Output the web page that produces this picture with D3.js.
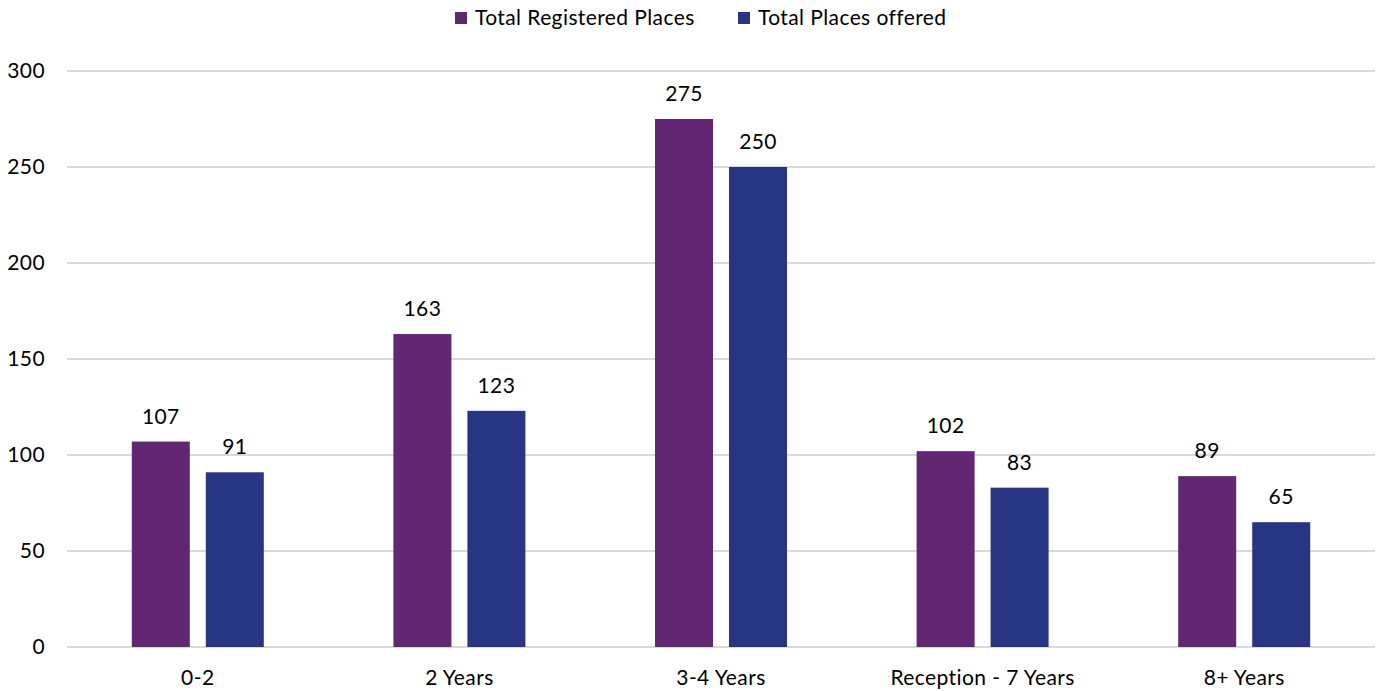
<!DOCTYPE html>
<html><head><meta charset="utf-8">
<script src="https://cdn.jsdelivr.net/npm/d3@7"></script>
<style>body{margin:0;background:#fff}svg{display:block}text{font-family:Lato,"Open Sans",sans-serif;fill:#000;letter-spacing:0.4px}</style>
</head><body>
<svg id="c" width="1383" height="691"></svg>
<script>
const categories = ["0-2","2 Years","3-4 Years","Reception - 7 Years","8+ Years"];
const seriesNames = ["Total Registered Places","Total Places offered"];
const registered = [107,163,275,102,89];
const offered = [91,123,250,83,65];
const yTicks = [0,50,100,150,200,250,300];
const colors = ["#622773","#283583"];

(function(){
const svg = d3.select("#c");
const pLeft = 67, pRight = 1375, pTop = 71, pBottom = 647;
const fs = 21;
const x = d3.scaleBand().domain(categories).range([pLeft,pRight]);
const y = d3.scaleLinear().domain([0,300]).range([pBottom,pTop]);
const barW = 58, gap = 16;

svg.append("g").selectAll("line").data(yTicks).join("line")
  .attr("x1",pLeft).attr("x2",pRight).attr("y1",d=>y(d)).attr("y2",d=>y(d))
  .attr("stroke","#d9d9d9").attr("stroke-width",2);
svg.append("g").selectAll("text").data(yTicks).join("text")
  .attr("x",45).attr("y",d=>y(d)+7).attr("text-anchor","end").attr("font-size",fs).text(d=>d);

const series = [registered, offered];
series.forEach((vals,si)=>{
  const g = svg.append("g");
  const xo = c => x(c)+x.bandwidth()/2 + (si===0 ? -(gap/2+barW) : gap/2);
  g.selectAll("rect").data(categories).join("rect")
    .attr("x",c=>xo(c)).attr("width",barW)
    .attr("y",(c,i)=>y(vals[i])).attr("height",(c,i)=>pBottom-y(vals[i]))
    .attr("fill",colors[si]);
  g.selectAll("text").data(categories).join("text")
    .attr("x",c=>xo(c)+barW/2).attr("y",(c,i)=>y(vals[i])-18)
    .attr("text-anchor","middle").attr("font-size",fs).text((c,i)=>vals[i]);
});

svg.append("g").selectAll("text").data(categories).join("text")
  .attr("x",c=>x(c)+x.bandwidth()/2).attr("y",685).attr("text-anchor","middle")
  .attr("font-size",fs).text(d=>d);

const legX = [455,738];
seriesNames.forEach((n,i)=>{
  svg.append("rect").attr("x",legX[i]).attr("y",12).attr("width",12).attr("height",12).attr("fill",colors[i]);
  svg.append("text").attr("x",legX[i]+20).attr("y",25).attr("font-size",fs).text(n);
});
})();
</script>
</body></html>
